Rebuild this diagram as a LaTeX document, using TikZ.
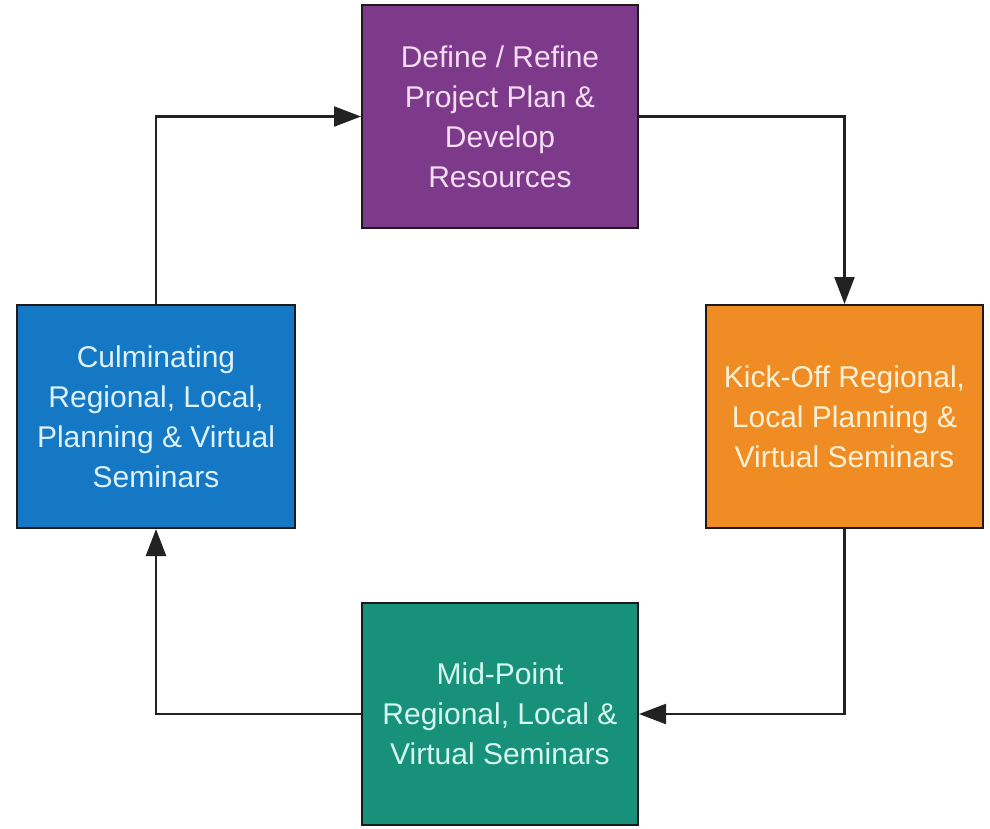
\documentclass[tikz,border=0pt]{standalone}
\usepackage{fontspec}
\setmainfont{Liberation Sans}
\usetikzlibrary{arrows.meta}
\definecolor{cpurple}{HTML}{7E3A8A}
\definecolor{corange}{HTML}{F08C24}
\definecolor{cgreen}{HTML}{17917A}
\definecolor{cblue}{HTML}{1478C4}
\definecolor{tpurple}{HTML}{F3DDF3}
\definecolor{torange}{HTML}{FFF1D6}
\definecolor{tgreen}{HTML}{D6F7EF}
\definecolor{tblue}{HTML}{DDF1FF}
\definecolor{edge}{HTML}{1E1A1C}
\definecolor{wire}{HTML}{222222}
\tikzset{
  stagebox/.style={draw=edge, line width=2pt, rectangle, minimum width=276pt,
    minimum height=223pt, align=center, inner sep=0pt,
    font=\fontsize{30}{40}\selectfont},
  arr/.style={draw=wire, line width=2.3pt,
    -{Triangle[length=27pt,width=20pt]}}
}
\begin{document}
\begin{tikzpicture}[x=1pt,y=1pt]
\useasboundingbox (0,0) rectangle (990,-828);
\node[stagebox, fill=cpurple, text=tpurple] (p) at (500,-116.5)
  {Define / Refine\\Project Plan \&\\Develop\\Resources};
\node[stagebox, fill=corange, text=torange, minimum width=277pt] (o) at (844.5,-416.5)
  {Kick-Off Regional,\\Local Planning \&\\Virtual Seminars};
\node[stagebox, fill=cgreen, text=tgreen, minimum height=222pt] (g) at (500,-714)
  {Mid-Point\\Regional, Local \&\\Virtual Seminars};
\node[stagebox, fill=cblue, text=tblue, minimum width=278pt] (b) at (156,-416.5)
  {Culminating\\Regional, Local,\\Planning \& Virtual\\Seminars};
\draw[arr] (p.east) -| (o.north);
\draw[arr] (o.south) |- (g.east);
\draw[arr] (g.west) -| (b.south);
\draw[arr] (b.north) |- (p.west);
\end{tikzpicture}
\end{document}
